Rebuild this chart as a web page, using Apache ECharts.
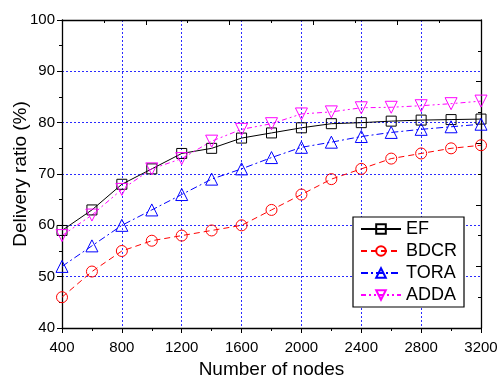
<!DOCTYPE html>
<html>
<head>
<meta charset="utf-8">
<script src="https://cdn.jsdelivr.net/npm/echarts@6/dist/echarts.min.js"></script>
<style>
  html, body {margin: 0; padding: 0; background: #fff;}
  #chart {width: 498px; height: 375px;}
</style>
</head>
<body>
<div id="chart"></div>
<script>
const nodes = [400, 600, 800, 1000, 1200, 1400, 1600, 1800, 2000, 2200, 2400, 2600, 2800, 3000, 3200];
const ef   = [59, 63, 68, 71, 74, 75, 77, 78, 79, 79.8, 80, 80.3, 80.5, 80.6, 80.7];
const bdcr = [46, 51, 55, 57, 58, 59, 60, 63, 66, 69, 71, 73, 74, 75, 75.6];
const tora = [52, 56, 60, 63, 66, 69, 71, 73.2, 75.2, 76.2, 77.3, 78.1, 78.7, 79.2, 79.7];
const adda = [58, 62, 67, 71, 73, 76.4, 78.7, 79.8, 81.7, 82.1, 82.9, 83, 83.3, 83.7, 84.2];

const font = 'Liberation Sans, Arial, sans-serif';
const pairs = (ys) => nodes.map((x, i) => [x, ys[i]]);

const mkSeries = (name, data, color, symbol, size, dash, rotate) => ({
    name: name,
    type: 'line',
    xAxisIndex: 0,
    yAxisIndex: 0,
    data: pairs(data),
    symbol: symbol,
    symbolSize: size,
    symbolRotate: rotate || 0,
    showAllSymbol: true,
    itemStyle: {color: 'rgba(255,255,255,0)', borderColor: color, borderWidth: 1},
    lineStyle: {color: color, width: 1, type: dash},
    emphasis: {disabled: true},
    animation: false
});

const chart = echarts.init(document.getElementById('chart'));
chart.setOption({
    animation: false,
    grid: {left: 62, right: 17, top: 20, bottom: 47, containLabel: false, outerBoundsMode: 'none'},
    xAxis: [{
        type: 'value',
        min: 400, max: 3200, interval: 400,
        name: 'Number of nodes',
        nameLocation: 'middle',
        nameGap: 32,
        nameTextStyle: {fontFamily: font, fontSize: 19, color: '#000'},
        axisLine: {lineStyle: {color: '#000', width: 1.3}},
        axisTick: {inside: false, length: 5, lineStyle: {color: '#000'}},
        minorTick: {show: true, splitNumber: 2, length: 3, lineStyle: {color: '#000'}},
        axisLabel: {fontFamily: font, fontSize: 15, color: '#000', margin: 12, formatter: (v) => String(v)},
        splitLine: {show: true, lineStyle: {color: '#2a2aff', type: [2, 2], width: 1}}
    }, {
        type: 'value',
        position: 'top',
        min: 0, max: 10, interval: 2,
        axisLine: {onZero: false, lineStyle: {color: '#000', width: 1.3}},
        axisTick: {inside: true, length: 5, lineStyle: {color: '#000'}},
        minorTick: {show: true, splitNumber: 2, length: 3, lineStyle: {color: '#000'}},
        axisLabel: {show: false},
        splitLine: {show: false}
    }],
    yAxis: [{
        type: 'value',
        min: 40, max: 100, interval: 10,
        name: 'Delivery ratio (%)',
        nameLocation: 'middle',
        nameGap: 32,
        nameMoveOverlap: false,
        nameTextStyle: {fontFamily: font, fontSize: 19, color: '#000'},
        axisLine: {show: true, lineStyle: {color: '#000', width: 1.3}},
        axisTick: {show: true, inside: false, length: 5, lineStyle: {color: '#000'}},
        minorTick: {show: true, splitNumber: 2, length: 3, lineStyle: {color: '#000'}},
        axisLabel: {fontFamily: font, fontSize: 15, color: '#000', margin: 7},
        splitLine: {show: true, lineStyle: {color: '#2a2aff', type: [2, 2], width: 1}}
    }, {
        type: 'value',
        position: 'right',
        min: 0, max: 10, interval: 2,
        axisLine: {show: true, onZero: false, lineStyle: {color: '#000', width: 1.3}},
        axisTick: {show: true, inside: true, length: 5, lineStyle: {color: '#000'}},
        minorTick: {show: true, splitNumber: 2, length: 3, lineStyle: {color: '#000'}},
        axisLabel: {show: false},
        splitLine: {show: false}
    }],
    legend: {
        orient: 'vertical',
        left: 353,
        top: 217,
        padding: [3, 7, 3, 7],
        itemWidth: 40,
        itemHeight: 12,
        itemGap: 4,
        backgroundColor: '#fff',
        borderColor: '#000',
        borderWidth: 1.2,
        borderRadius: 0,
        textStyle: {fontFamily: font, fontSize: 18, color: '#000', lineHeight: 18},
        data: ['EF', 'BDCR', 'TORA', 'ADDA']
    },
    series: [
        mkSeries('EF', ef, '#000000', 'rect', 10, 'solid'),
        mkSeries('BDCR', bdcr, '#ff0000', 'circle', 11, [6, 4]),
        mkSeries('TORA', tora, '#0000ff', 'triangle', 12, [7, 3, 2, 3]),
        mkSeries('ADDA', adda, '#ff00ff', 'triangle', 12, [5, 3, 2, 3, 2, 3], 180)
    ]
});
</script>
</body>
</html>
